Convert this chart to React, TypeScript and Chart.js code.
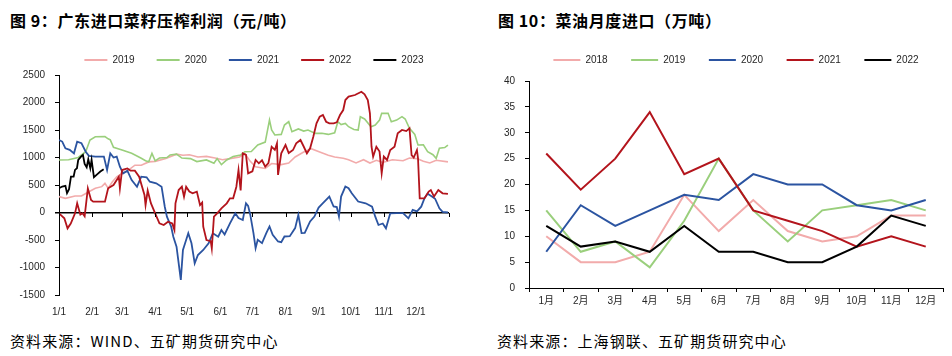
import React, { useEffect, useRef } from 'react';
import { Chart, registerables } from 'chart.js';

Chart.register(...registerables);

// ---------- Figure 9: crushing margin (day of year -> yuan/ton) ----------
const MONTH_START_DAYS = [0, 31, 59, 90, 120, 151, 181, 212, 243, 273, 304, 334];
const MONTH_TICK_LABELS = ['1/1', '2/1', '3/1', '4/1', '5/1', '6/1', '7/1', '8/1', '9/1', '10/1', '11/1', '12/1'];
const PROFIT_Y_MIN = -1500;
const PROFIT_Y_MAX = 2500;
const PROFIT_Y_STEP = 500;

const DAYS_2019 = [0, 6, 15, 21, 28, 34, 40, 43, 46, 50, 54, 59, 65, 71, 77, 84, 90, 100, 110, 116, 122, 130, 138, 146, 153, 160, 169, 174, 179, 184, 193, 199, 208, 215, 221, 229, 236, 244, 252, 258, 266, 271, 278, 285, 291, 297, 303, 312, 322, 328, 335, 341, 347, 353, 364];
const PROFIT_2019 = [290, 258, 300, 300, 378, 440, 470, 530, 440, 560, 650, 710, 770, 860, 860, 920, 930, 980, 1060, 1040, 1050, 1010, 1020, 990, 960, 980, 1010, 1070, 930, 830, 800, 890, 870, 900, 1010, 1100, 1160, 1100, 1040, 1010, 985, 960, 900, 960, 900, 950, 910, 960, 940, 990, 980, 930, 900, 950, 920];

const DAYS_2020 = [0, 9, 18, 25, 29, 34, 43, 46, 48, 51, 59, 68, 77, 81, 84, 87, 90, 94, 101, 104, 110, 115, 123, 129, 138, 145, 148, 152, 157, 163, 170, 174, 180, 186, 193, 197, 199, 202, 208, 211, 215, 218, 224, 229, 233, 240, 246, 252, 258, 261, 264, 268, 271, 276, 280, 282, 286, 292, 296, 300, 302, 308, 311, 316, 321, 324, 328, 333, 336, 341, 345, 350, 353, 356, 361, 364];
const PROFIT_2020 = [955, 960, 1000, 1105, 1318, 1378, 1380, 1340, 1320, 1185, 1136, 1076, 985, 940, 924, 1076, 940, 990, 1000, 1047, 1060, 990, 980, 926, 956, 896, 980, 870, 956, 1017, 1047, 1106, 1110, 1227, 1280, 1681, 1500, 1409, 1420, 1590, 1651, 1469, 1520, 1480, 1500, 1439, 1440, 1420, 1450, 1651, 1600, 1620, 1560, 1510, 1500, 1742, 1700, 1560, 1590, 1681, 1803, 1803, 1651, 1680, 1742, 1700, 1530, 1420, 1227, 1230, 1106, 1050, 985, 1167, 1180, 1227];

const DAYS_2021 = [0, 3, 6, 10, 14, 17, 21, 25, 28, 34, 42, 45, 48, 51, 54, 57, 60, 64, 68, 73, 77, 82, 85, 91, 96, 99, 101, 105, 107, 110, 114, 116, 118, 121, 124, 127, 130, 135, 140, 144, 149, 152, 155, 160, 165, 168, 172, 175, 177, 179, 182, 184, 186, 190, 194, 197, 200, 205, 208, 211, 216, 221, 224, 227, 230, 235, 239, 243, 247, 250, 253, 257, 260, 262, 264, 268, 271, 274, 280, 287, 293, 296, 299, 303, 306, 310, 316, 322, 327, 331, 335, 339, 342, 345, 349, 352, 356, 359, 364];
const PROFIT_2021 = [1318, 1290, 1166, 1140, 1076, 1288, 1260, 1105, 1030, 1017, 1017, 772, 1076, 1000, 1017, 833, 712, 760, 590, 469, 651, 640, 560, 531, 469, 105, -76, -258, -440, -622, -1227, -682, -560, -378, -560, -924, -773, -682, -560, -378, -440, -318, -400, -197, -15, -100, -136, 167, 120, -40, -375, -648, -496, -557, -375, -254, -406, -527, -540, -436, -430, -284, -42, -375, -370, -163, -73, 90, 169, 230, 290, 109, 100, -73, 290, 472, 440, 351, 200, 167, 106, -76, -227, -200, -288, -15, -10, -10, -106, 48, 20, 106, 258, 340, 290, 250, 76, 10, 0];

const DAYS_2022 = [0, 5, 8, 11, 15, 17, 20, 22, 24, 27, 30, 32, 43, 46, 51, 56, 57, 59, 64, 67, 71, 75, 80, 81, 83, 86, 90, 94, 98, 102, 106, 108, 109, 112, 115, 117, 119, 122, 125, 129, 132, 134, 135, 138, 142, 143, 145, 148, 152, 157, 160, 163, 166, 168, 170, 172, 175, 177, 181, 184, 187, 190, 193, 196, 199, 202, 204, 205, 208, 212, 215, 219, 222, 226, 229, 232, 235, 238, 241, 244, 247, 250, 253, 257, 260, 263, 266, 268, 271, 277, 283, 286, 289, 291, 292.5, 294, 297, 300, 302, 304, 307, 310, 314, 317, 321, 325, 328, 330, 332, 335, 336, 337.6, 342, 346, 348, 351, 355, 359, 364];
const PROFIT_2022 = [-15, -106, -288, -200, -15, 167, -40, -15, -70, 439, 227, 197, 197, 439, 500, 651, 440, 772, 800, 760, 760, 650, 318, 136, 400, 169, -15, -197, -227, -167, -200, -318, 167, 409, 469, 288, 469, 380, 349, 380, 136, 180, -258, -500, -520, -651, -76, -15, 76, 167, 258, 258, 469, 773, 400, 1076, 1047, 713, 750, 955, 894, 950, 833, 900, 1196, 1138, 1257, 682, 1076, 1227, 1080, 1136, 1257, 1318, 1200, 1076, 1168, 1378, 1621, 1742, 1772, 1650, 1620, 1622, 1640, 1772, 1863, 2045, 2106, 2136, 2196, 2150, 2045, 1803, 1196, 1015, 1196, 1108, 713, 1017, 955, 1136, 1196, 1440, 1500, 1480, 1531, 1045, 1000, 1136, 985, 258, 258, 381, 409, 290, 409, 349, 340];

const DAYS_2023 = [0, 3, 6, 7.5, 9.4, 11.2, 13.7, 15, 16.8, 18, 20.6, 22.4, 24, 25.9, 27.4, 29.3, 30.5, 32.7, 36.2, 38.7, 41.8];
const PROFIT_2023 = [442, 472, 484, 351, 424, 654, 654, 775, 805, 956, 1017, 1047, 884, 823, 968, 805, 956, 642, 702, 744, 787];

// ---------- Figure 10: monthly rapeseed-oil imports (10k tons) ----------
const IMPORT_MONTHS = ['1月', '2月', '3月', '4月', '5月', '6月', '7月', '8月', '9月', '10月', '11月', '12月'];
const IMPORT_2018 = [10, 5, 5, 7, 18, 11, 17, 11, 9, 10, 14, 14];
const IMPORT_2019 = [15, 7, 9, 4, 13, 25, 15, 9, 15, 16, 17, 15];
const IMPORT_2020 = [7, 16, 12, 15, 18, 17, 22, 20, 20, 16, 15, 17];
const IMPORT_2021 = [26, 19, 25, 34, 22, 25, 15, 13, 11, 8, 10, 8];
const IMPORT_2022 = [12, 8, 9, 7, 12, 7, 7, 5, 5, 8, 14, 12];

const PINK = '#F2ABAB';
const GREEN = '#9ACF7C';
const BLUE = '#2B54A1';
const RED = '#B3141C';
const BLACK = '#000000';

const LATIN = "'Liberation Sans', Arial, 'Noto Sans CJK SC', sans-serif";
const CJK = "'Noto Sans CJK SC', 'Noto Sans', sans-serif";
const TEXT_COLOR = '#262626';

const legendLabels = (boxWidth: number, padding: number) => ({
  boxWidth,
  boxHeight: 2,
  padding,
  color: TEXT_COLOR,
  font: { family: LATIN, size: 10 },
  sort: (a: any, b: any) => a.datasetIndex - b.datasetIndex,
  generateLabels: (c: any) =>
    (Chart.defaults.plugins.legend.labels as any).generateLabels(c).map((l: any) => ({ ...l, lineWidth: 0 })),
});

const zeroLineTicks = {
  id: 'zeroLineTicks',
  afterDraw(chart: any) {
    const xs = chart.scales.x;
    const ys = chart.scales.y;
    const y0 = Math.round(ys.getPixelForValue(0));
    const ctx = chart.ctx;
    ctx.save();
    ctx.strokeStyle = '#000';
    ctx.lineWidth = 1;
    [...MONTH_START_DAYS, xs.max].forEach((d: number) => {
      const px = Math.round(xs.getPixelForValue(d)) + 0.5;
      ctx.beginPath();
      ctx.moveTo(px, y0);
      ctx.lineTo(px, y0 + 4);
      ctx.stroke();
    });
    ctx.restore();
  },
};

function ProfitChart() {
  const ref = useRef<HTMLCanvasElement>(null);
  useEffect(() => {
    const series = [
      { label: '2019', days: DAYS_2019, values: PROFIT_2019, color: PINK, width: 1.6 },
      { label: '2020', days: DAYS_2020, values: PROFIT_2020, color: GREEN, width: 1.6 },
      { label: '2021', days: DAYS_2021, values: PROFIT_2021, color: BLUE, width: 1.8 },
      { label: '2022', days: DAYS_2022, values: PROFIT_2022, color: RED, width: 1.8 },
      { label: '2023', days: DAYS_2023, values: PROFIT_2023, color: BLACK, width: 1.8 },
    ];
    const chart = new Chart(ref.current as HTMLCanvasElement, {
      type: 'line',
      data: {
        datasets: series.map((s, i) => ({
          label: s.label,
          data: s.days.map((d, j) => ({ x: d, y: s.values[j] })),
          borderColor: s.color,
          backgroundColor: s.color,
          borderWidth: s.width,
          pointRadius: 0,
          tension: 0,
          order: series.length - i,
        })),
      },
      options: {
        animation: false,
        responsive: false,
        devicePixelRatio: 1,
        layout: { padding: { top: 33, right: 27, bottom: 0, left: 0 } },
        plugins: {
          legend: { position: 'top', fullSize: false, maxHeight: 42, labels: legendLabels(23, 22) } as any,
          tooltip: { enabled: false },
        },
        scales: {
          x: {
            type: 'linear',
            min: 0,
            max: 365,
            afterBuildTicks: (s: any) => {
              s.ticks = MONTH_START_DAYS.map((v) => ({ value: v }));
            },
            afterFit: (s: any) => {
              s.height = 25;
            },
            ticks: {
              autoSkip: false,
              maxRotation: 0,
              padding: 11,
              color: TEXT_COLOR,
              font: { family: LATIN, size: 10 },
              callback: (v: any) => {
                const i = MONTH_START_DAYS.indexOf(Number(v));
                return i >= 0 ? MONTH_TICK_LABELS[i] : '';
              },
            },
            grid: { display: false, drawTicks: false },
            border: { display: false },
          },
          y: {
            min: PROFIT_Y_MIN,
            max: PROFIT_Y_MAX,
            afterFit: (s: any) => {
              s.width = 59;
            },
            ticks: {
              stepSize: PROFIT_Y_STEP,
              padding: 10,
              color: TEXT_COLOR,
              font: { family: LATIN, size: 10 },
              callback: (v: any) => String(v),
            },
            grid: {
              drawOnChartArea: true,
              color: (c: any) => (c.tick && c.tick.value === 0 ? '#000' : 'rgba(0,0,0,0)'),
              lineWidth: (c: any) => (c.tick && c.tick.value === 0 ? 1.5 : 1),
              tickColor: '#000',
              tickLength: 4,
            },
            border: { display: true, color: '#000', width: 1 },
          },
        },
      } as any,
      plugins: [zeroLineTicks],
    });
    return () => chart.destroy();
  }, []);
  return (
    <canvas
      ref={ref}
      width={476}
      height={320}
      style={{ position: 'absolute', left: 0, top: 0, width: 476, height: 320 }}
    />
  );
}

function ImportChart() {
  const ref = useRef<HTMLCanvasElement>(null);
  useEffect(() => {
    const series = [
      { label: '2018', values: IMPORT_2018, color: PINK },
      { label: '2019', values: IMPORT_2019, color: GREEN },
      { label: '2020', values: IMPORT_2020, color: BLUE },
      { label: '2021', values: IMPORT_2021, color: RED },
      { label: '2022', values: IMPORT_2022, color: BLACK },
    ];
    const chart = new Chart(ref.current as HTMLCanvasElement, {
      type: 'line',
      data: {
        labels: IMPORT_MONTHS,
        datasets: series.map((s, i) => ({
          label: s.label,
          data: s.values,
          borderColor: s.color,
          backgroundColor: s.color,
          borderWidth: 2,
          pointRadius: 0,
          tension: 0,
          order: series.length - i,
        })),
      },
      options: {
        animation: false,
        responsive: false,
        devicePixelRatio: 1,
        layout: { padding: { top: 31.5, right: 9, bottom: 0, left: 0 } },
        plugins: {
          legend: { position: 'top', fullSize: false, labels: legendLabels(27, 23.5) } as any,
          // empty spacer box between the legend and the plot area
          subtitle: {
            display: true,
            text: '',
            position: 'top',
            fullSize: false,
            weight: 500,
            padding: 0,
            font: { size: 6, lineHeight: 1 },
          },
          tooltip: { enabled: false },
        },
        scales: {
          x: {
            type: 'category',
            offset: true,
            afterFit: (s: any) => {
              s.height = 32;
            },
            ticks: {
              autoSkip: false,
              maxRotation: 0,
              padding: 3,
              color: TEXT_COLOR,
              font: { family: LATIN, size: 10 },
            },
            grid: { offset: true, drawOnChartArea: false, tickLength: 4, tickColor: '#000' },
            border: { display: true, color: '#000', width: 1 },
          },
          y: {
            min: 0,
            max: 40,
            afterFit: (s: any) => {
              s.width = 53;
            },
            ticks: {
              stepSize: 5,
              padding: 10,
              color: TEXT_COLOR,
              font: { family: LATIN, size: 10 },
            },
            grid: { drawOnChartArea: false, tickLength: 4, tickColor: '#000' },
            border: { display: true, color: '#000', width: 1 },
          },
        },
      } as any,
    });
    return () => chart.destroy();
  }, []);
  return (
    <canvas
      ref={ref}
      width={476}
      height={320}
      style={{ position: 'absolute', left: 476, top: 0, width: 476, height: 320 }}
    />
  );
}

const titleStyle: React.CSSProperties = {
  position: 'absolute',
  top: 12,
  fontFamily: CJK,
  fontSize: 16,
  fontWeight: 700,
  letterSpacing: '0.6px',
  lineHeight: '16px',
  color: '#000',
  whiteSpace: 'nowrap',
};

const sourceStyle: React.CSSProperties = {
  position: 'absolute',
  top: 333,
  fontFamily: CJK,
  fontSize: 15,
  fontWeight: 400,
  letterSpacing: '1.1px',
  lineHeight: '15px',
  color: '#000',
  whiteSpace: 'nowrap',
};

export default function App() {
  return (
    <div
      style={{
        position: 'fixed',
        left: 0,
        top: 0,
        width: 952,
        height: 356,
        background: '#fff',
        overflow: 'hidden',
      }}
    >
      <div style={{ ...titleStyle, left: 10 }}>图 9：广东进口菜籽压榨利润（元/吨）</div>
      <div style={{ ...titleStyle, left: 498 }}>图 10：菜油月度进口（万吨）</div>
      <ProfitChart />
      <ImportChart />
      <div style={{ ...sourceStyle, left: 10 }}>资料来源：WIND、五矿期货研究中心</div>
      <div style={{ ...sourceStyle, left: 497 }}>资料来源：上海钢联、五矿期货研究中心</div>
    </div>
  );
}
